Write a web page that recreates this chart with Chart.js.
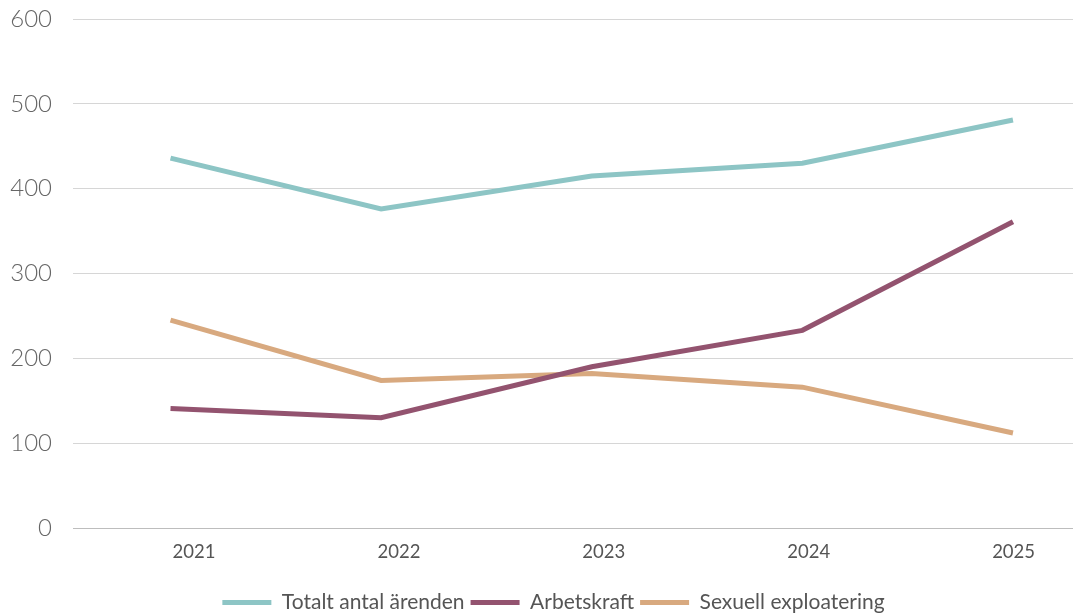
<!DOCTYPE html>
<html>
<head>
<meta charset="utf-8">
<script src="https://cdn.jsdelivr.net/npm/chart.js@4/dist/chart.umd.min.js"></script>
<style>
html,body{margin:0;padding:0;background:#fff;overflow:hidden;}
#clip{width:1073px;height:615px;overflow:hidden;position:relative;}
#wrap{width:1073px;height:623px;position:relative;}
</style>
</head>
<body>
<div id="clip"><div id="wrap"><canvas id="c"></canvas></div></div>
<script>
const categories = [2021, 2022, 2023, 2024, 2025];
const totalt = [436, 376, 415, 430, 481];
const arbetskraft = [141, 130, 190, 233, 361];
const sexuell = [245, 174, 182, 166, 112];
const yTicks = [0, 100, 200, 300, 400, 500, 600];

const colTot = '#8DC5C5', colArb = '#93536F', colSex = '#D8A97F';

function pts(vals){ return categories.map((c,i)=>({x:c, y:vals[i]})); }

const shiftLegend = {
  id: 'shiftLegend',
  afterLayout(c) { if (c.legend) { c.legend.left += 17; c.legend.right += 17; } }
};

const chart = new Chart(document.getElementById('c'), {
  type: 'line',
  plugins: [shiftLegend],
  data: {
    datasets: [
      {label:'Totalt antal ärenden', data: pts(totalt), borderColor: colTot, backgroundColor: colTot},
      {label:'Arbetskraft', data: pts(arbetskraft), borderColor: colArb, backgroundColor: colArb},
      {label:'Sexuell exploatering', data: pts(sexuell), borderColor: colSex, backgroundColor: colSex}
    ]
  },
  options: {
    responsive: true,
    maintainAspectRatio: false,
    animation: false,
    devicePixelRatio: 1,
    layout: {padding: {top: 19, right: 0, left: 0, bottom: 0}},
    elements: {
      line: {borderWidth: 5, tension: 0, borderCapStyle: 'butt', borderJoinStyle: 'miter'},
      point: {radius: 0, hoverRadius: 0}
    },
    scales: {
      x: {
        type: 'linear',
        position: 'bottom',
        min: 2020.537,
        max: 2025.285,
        display: false,
        afterBuildTicks: (s) => { s.ticks = categories.map(v => ({value: v})); }
      },
      xLabels: {
        type: 'linear',
        position: 'bottom',
        min: 2020.409,
        max: 2025.290,
        afterBuildTicks: (s) => { s.ticks = categories.map(v => ({value: v})); },
        afterFit: (s) => { s.height = 58; s.paddingLeft = 0; s.paddingRight = 0; },
        grid: {display: false, drawTicks: false},
        border: {display: false},
        ticks: {
          padding: 13,
          color: '#555',
          font: {family: 'Lato', size: 18.5},
          callback: (v) => String(v)
        }
      },
      y: {
        min: 0, max: 600,
        afterBuildTicks: (s) => { s.ticks = yTicks.map(v => ({value: v})); },
        afterFit: (s) => { s.width = 73; s.paddingTop = 0; s.paddingBottom = 0; },
        grid: {color: (ctx) => ctx.tick && ctx.tick.value === 0 ? '#bdbdbd' : '#d6d6d6', lineWidth: 1, drawTicks: false},
        border: {display: false},
        ticks: {
          padding: 21,
          color: '#666',
          font: {family: 'Lato', size: 24, weight: '300'}
        }
      }
    },
    plugins: {
      tooltip: {enabled: false},
      legend: {
        position: 'bottom',
        labels: {
          boxWidth: 49,
          boxHeight: 5,
          padding: 6,
          color: '#555',
          font: {family: 'Lato', size: 21},
          generateLabels: (c) => Chart.defaults.plugins.legend.labels.generateLabels(c).map(l => Object.assign(l, {lineWidth: 0, strokeStyle: l.fillStyle}))
        }
      }
    }
  }
});
</script>
</body>
</html>
